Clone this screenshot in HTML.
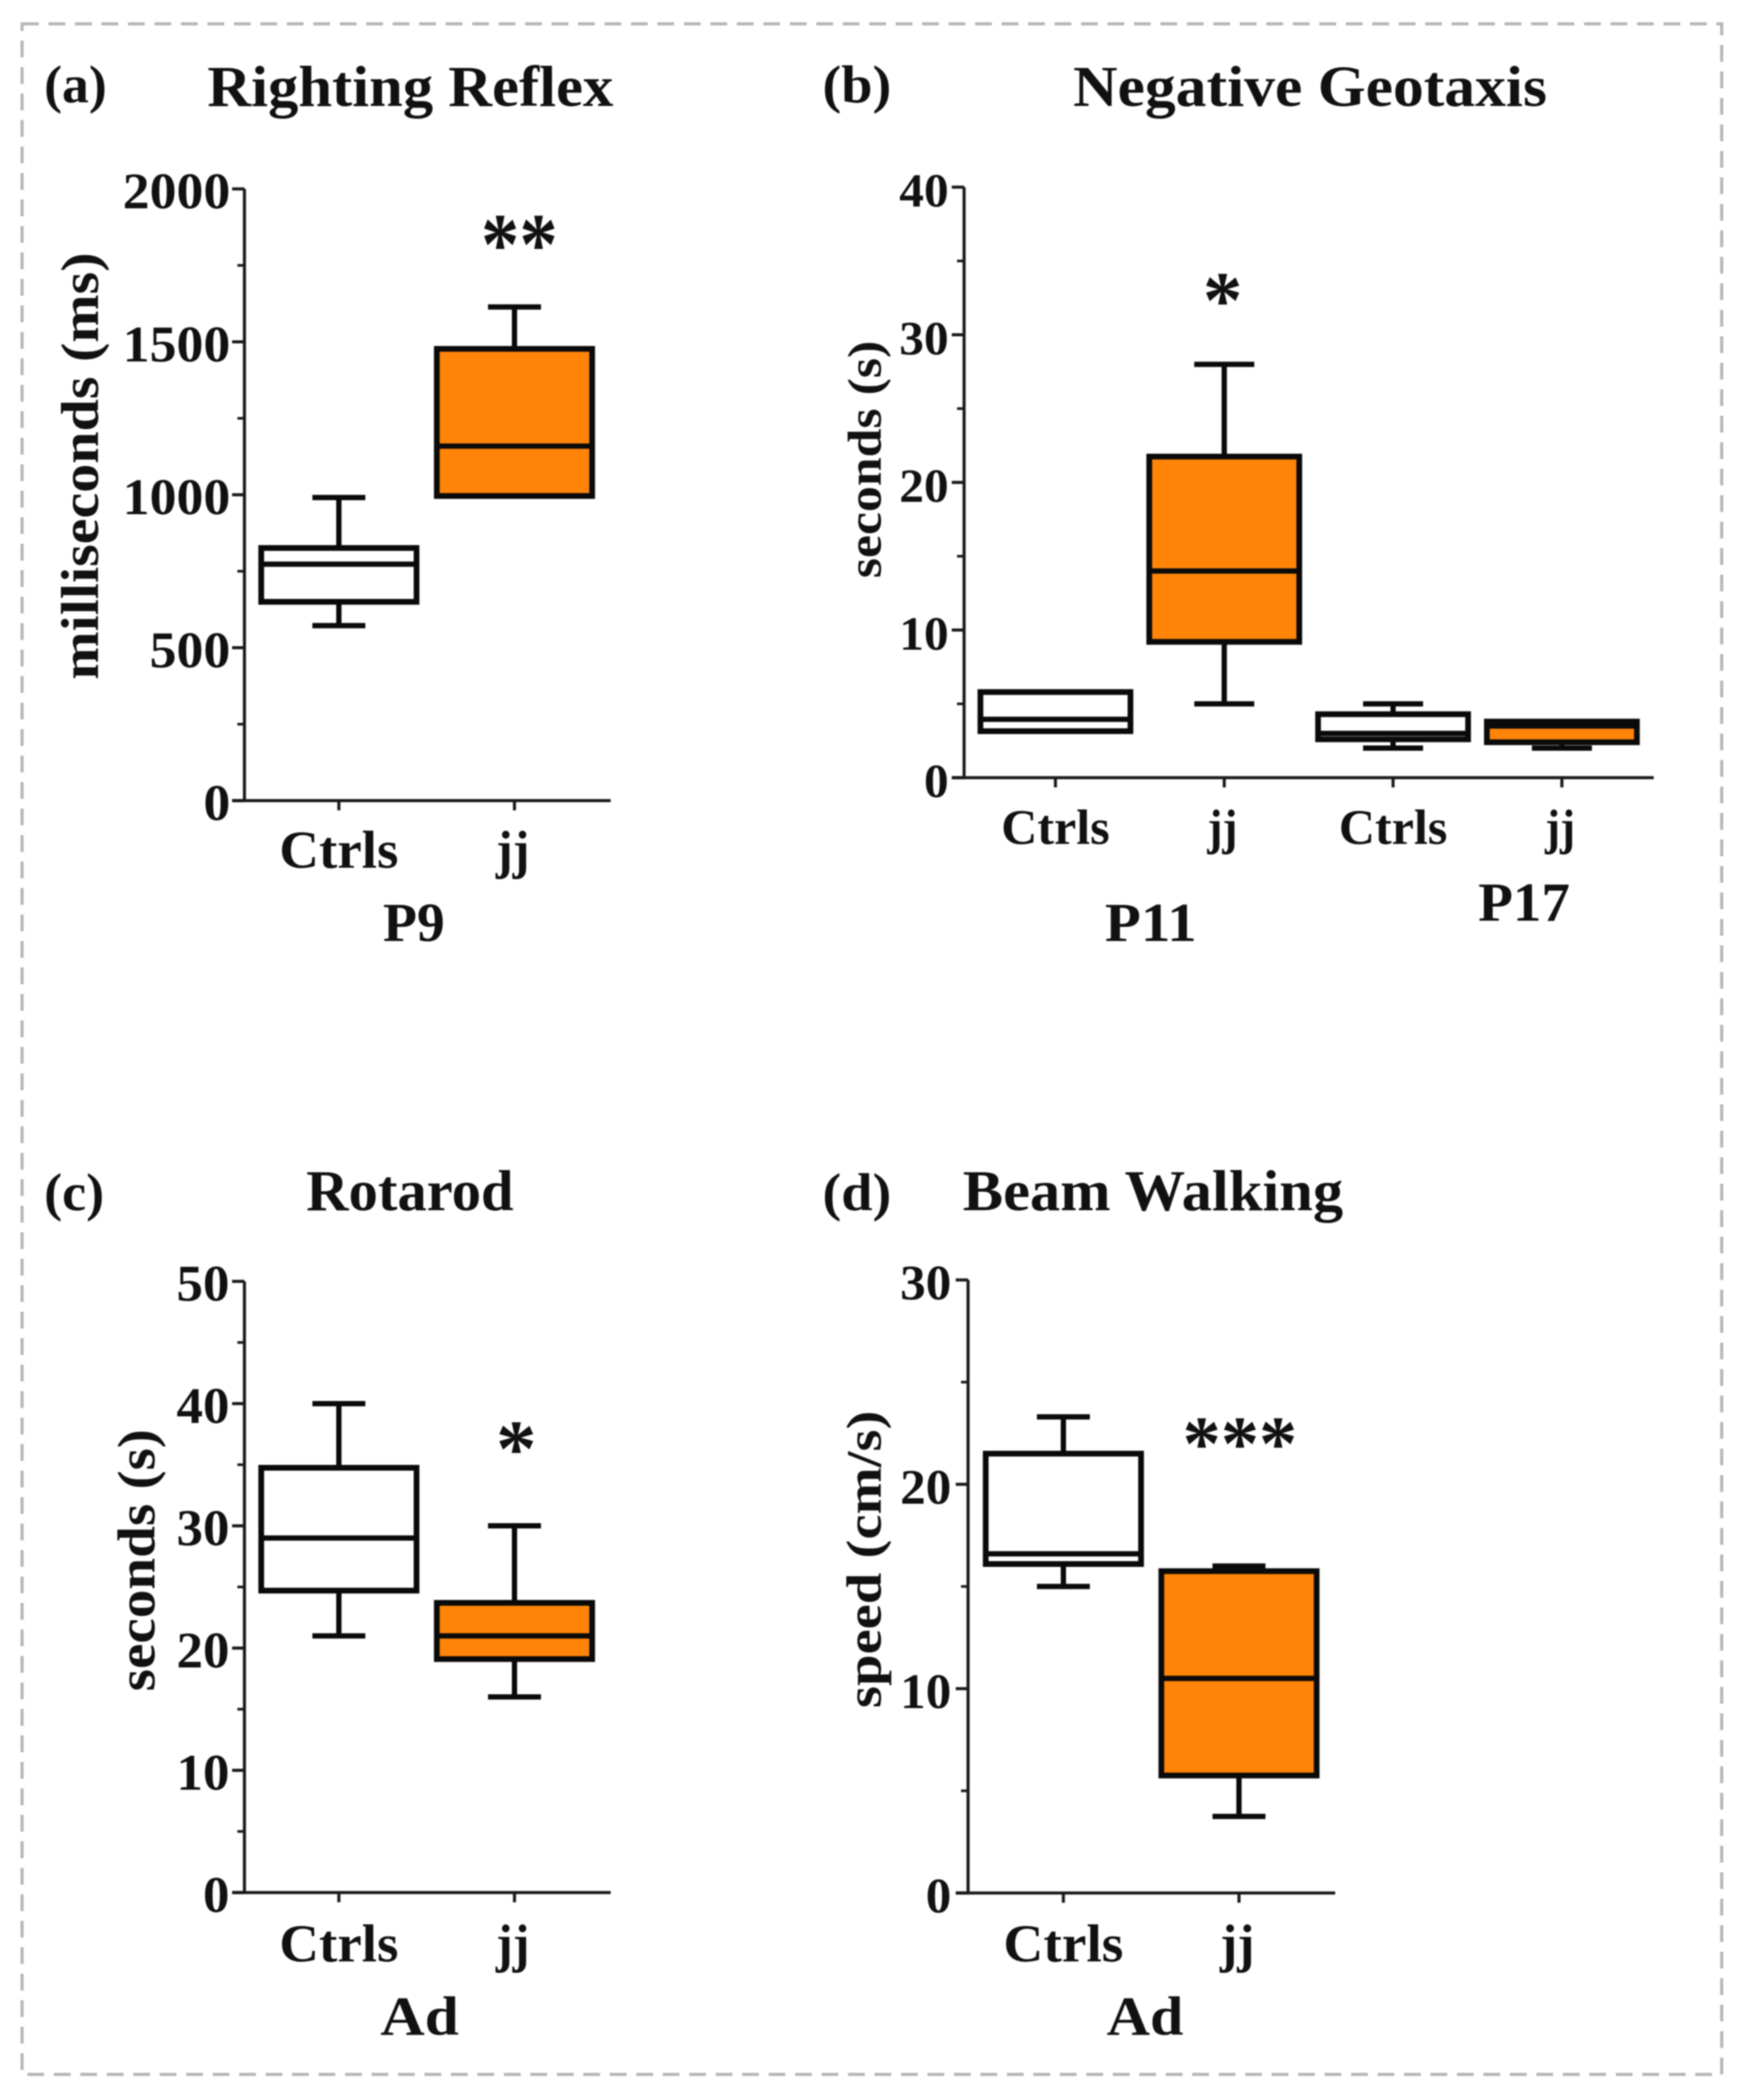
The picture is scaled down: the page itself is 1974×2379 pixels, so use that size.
<!DOCTYPE html>
<html lang="en">
<head>
<meta charset="utf-8">
<title>Behavioural tests box plots</title>
<style>
html,body{margin:0;padding:0;background:#fff;}
svg{display:block;filter:blur(0.9px);}
text{font-family:"Liberation Serif",serif;font-weight:700;fill:#111;}
</style>
</head>
<body>
<svg id="figure" xmlns="http://www.w3.org/2000/svg" width="1974" height="2379" viewBox="0 0 1974 2379">
  <rect x="0" y="0" width="1974" height="2379" fill="#fff"/>
  <rect x="25" y="27" width="1926" height="2323" fill="none" stroke="#b5b5b5" stroke-width="3.5" stroke-dasharray="19 11"/>

  <text x="50" y="116" font-size="60" textLength="71" lengthAdjust="spacingAndGlyphs">(a)</text>
  <text x="235" y="120" font-size="66" textLength="460" lengthAdjust="spacingAndGlyphs">Righting Reflex</text>
  <text transform="translate(111,770) rotate(-90)" font-size="60" textLength="484" lengthAdjust="spacingAndGlyphs">milliseconds (ms)</text>
  <text x="434" y="1066" font-size="62" textLength="70" lengthAdjust="spacingAndGlyphs">P9</text>
  <text x="545" y="310" font-size="100" textLength="87" lengthAdjust="spacingAndGlyphs">**</text>
  <g id="panel-a"></g>

  <text x="932" y="116" font-size="60" textLength="78" lengthAdjust="spacingAndGlyphs">(b)</text>
  <text x="1216" y="120" font-size="66" textLength="537" lengthAdjust="spacingAndGlyphs">Negative Geotaxis</text>
  <text transform="translate(998,655) rotate(-90)" font-size="54" textLength="269" lengthAdjust="spacingAndGlyphs">seconds (s)</text>
  <text x="1252" y="1066" font-size="62" textLength="104" lengthAdjust="spacingAndGlyphs">P11</text>
  <text x="1675" y="1043" font-size="62" textLength="104" lengthAdjust="spacingAndGlyphs">P17</text>
  <text x="1363" y="371" font-size="92" textLength="45" lengthAdjust="spacingAndGlyphs">*</text>
  <g id="panel-b"></g>

  <text x="50" y="1371" font-size="60" textLength="68" lengthAdjust="spacingAndGlyphs">(c)</text>
  <text x="347" y="1371" font-size="66" textLength="235" lengthAdjust="spacingAndGlyphs">Rotarod</text>
  <text transform="translate(175,1916) rotate(-90)" font-size="60" textLength="297" lengthAdjust="spacingAndGlyphs">seconds (s)</text>
  <text x="431" y="2305" font-size="62" textLength="89" lengthAdjust="spacingAndGlyphs">Ad</text>
  <text x="562" y="1672" font-size="92" textLength="46" lengthAdjust="spacingAndGlyphs">*</text>
  <g id="panel-c"></g>

  <text x="932" y="1371" font-size="60" textLength="78" lengthAdjust="spacingAndGlyphs">(d)</text>
  <text x="1091" y="1371" font-size="66" textLength="431" lengthAdjust="spacingAndGlyphs">Beam Walking</text>
  <text transform="translate(998,1935) rotate(-90)" font-size="56" textLength="337" lengthAdjust="spacingAndGlyphs">speed (cm/s)</text>
  <text x="1254" y="2305" font-size="62" textLength="87" lengthAdjust="spacingAndGlyphs">Ad</text>
  <text x="1340" y="1665" font-size="88" textLength="130" lengthAdjust="spacingAndGlyphs">***</text>
  <g id="panel-d"></g>
</svg>

<script>
// Panel (a) Righting Reflex
const aCategories = ['Ctrls', 'jj'];
const aTicks = [0, 500, 1000, 1500, 2000];
const aWhiskerHigh = [991, 1614];
const aBoxTop = [826, 1477];
const aMedian = [773, 1159];
const aBoxBottom = [650, 996];
const aWhiskerLow = [572, 996];

// Panel (b) Negative Geotaxis
const bCategories = ['Ctrls', 'jj', 'Ctrls', 'jj'];
const bTicks = [0, 10, 20, 30, 40];
const bWhiskerHigh = [5.8, 28, 5, 3.8];
const bBoxTop = [5.8, 21.75, 4.3, 3.8];
const bMedian = [3.95, 14, 3, 3.5];
const bBoxBottom = [3.15, 9.2, 2.6, 2.4];
const bWhiskerLow = [3.15, 5, 2, 2];

// Panel (c) Rotarod
const cCategories = ['Ctrls', 'jj'];
const cTicks = [0, 10, 20, 30, 40, 50];
const cWhiskerHigh = [40, 30];
const cBoxTop = [34.75, 23.7];
const cMedian = [29, 21];
const cBoxBottom = [24.7, 19.1];
const cWhiskerLow = [21, 16];

// Panel (d) Beam Walking
const dCategories = ['Ctrls', 'jj'];
const dTicks = [0, 10, 20, 30];
const dWhiskerHigh = [23.3, 16];
const dBoxTop = [21.5, 15.75];
const dMedian = [16.6, 10.5];
const dBoxBottom = [16.1, 5.75];
const dWhiskerLow = [15, 3.75];

const SVG_NS = 'http://www.w3.org/2000/svg';
const INK = '#0a0a0a';
const ORANGE = '#ff8408';

function make(parent, tag, attrs) {
  const el = document.createElementNS(SVG_NS, tag);
  for (const k in attrs) el.setAttribute(k, attrs[k]);
  parent.appendChild(el);
  return el;
}

function drawPanel(id, layout, categories, ticks, hi, top, med, bot, lo) {
  const root = document.getElementById(id);
  const maxV = ticks[ticks.length - 1];
  const yScale = v => layout.y0 - (v / maxV) * (layout.y0 - layout.yTop);
  const xScale = i => layout.x0 + layout.firstOffset + i * layout.step;

  // axes
  const yAxis = make(root, 'line', {x1: layout.x0, x2: layout.x0, y1: layout.yTop, y2: layout.y0, stroke: '#1a1a1a', 'stroke-width': 3.5});
  
  
  const xAxis = make(root, 'line', {x1: layout.x0 - 14, x2: layout.xEnd, y1: layout.y0, y2: layout.y0, stroke: '#1a1a1a', 'stroke-width': 3.5});
  
  

  // y ticks + minor ticks + labels
  ticks.forEach((t, i) => {
    const y = yScale(t);
    const tick = make(root, 'line', {x1: layout.x0 - 14, x2: layout.x0, y1: y, y2: y, stroke: '#1a1a1a', 'stroke-width': 3.5});
    
    
    const s = String(t);
    const label = make(root, 'text', {
      x: layout.labelRight - s.length * layout.digitW, y: y + layout.labelDy,
      'font-size': layout.tickFont, textLength: s.length * layout.digitW, lengthAdjust: 'spacingAndGlyphs'
    });
    label.textContent = s;
    
    
    if (i < ticks.length - 1) {
      const my = yScale((t + ticks[i + 1]) / 2);
      const minor = make(root, 'line', {x1: layout.x0 - 8, x2: layout.x0, y1: my, y2: my, stroke: '#1a1a1a', 'stroke-width': 3});
      
      
    }
  });

  // categories
  categories.forEach((cat, i) => {
    const cx = xScale(i);
    const tick = make(root, 'line', {x1: cx, x2: cx, y1: layout.y0, y2: layout.y0 + 11, stroke: '#1a1a1a', 'stroke-width': 3.5});
    
    

    const isCtrl = cat === 'Ctrls';
    const w = isCtrl ? layout.ctrlW : layout.jjW;
    const label = make(root, 'text', {
      x: cx - w / 2 + (isCtrl ? 0 : -2), y: layout.catY,
      'font-size': layout.catFont, textLength: w, lengthAdjust: 'spacingAndGlyphs'
    });
    label.textContent = cat;
    
    

    const fill = isCtrl ? '#fff' : ORANGE;
    const whisker = make(root, 'line', {x1: cx, x2: cx, y1: yScale(hi[i]), y2: yScale(lo[i]), stroke: INK, 'stroke-width': 6});
    
    
    const capHi = make(root, 'line', {x1: cx - layout.capHalf, x2: cx + layout.capHalf, y1: yScale(hi[i]), y2: yScale(hi[i]), stroke: INK, 'stroke-width': 6});
    
    
    const capLo = make(root, 'line', {x1: cx - layout.capHalf, x2: cx + layout.capHalf, y1: yScale(lo[i]), y2: yScale(lo[i]), stroke: INK, 'stroke-width': 6});
    
    
    const box = make(root, 'rect', {
      x: cx - layout.boxHalf, width: layout.boxHalf * 2,
      y: yScale(top[i]), height: yScale(bot[i]) - yScale(top[i]),
      fill: fill, stroke: INK, 'stroke-width': 6.5
    });
    
    
    const median = make(root, 'line', {x1: cx - layout.boxHalf, x2: cx + layout.boxHalf, y1: yScale(med[i]), y2: yScale(med[i]), stroke: INK, 'stroke-width': 6});
    
    
  });
}

drawPanel('panel-a',
  {x0: 277, xEnd: 692, yTop: 214, y0: 907, firstOffset: 107, step: 199, boxHalf: 88, capHalf: 30,
   labelRight: 261, digitW: 30.5, tickFont: 58, labelDy: 22, catY: 983, catFont: 60, ctrlW: 135, jjW: 38},
  aCategories, aTicks, aWhiskerHigh, aBoxTop, aMedian, aBoxBottom, aWhiskerLow);

drawPanel('panel-b',
  {x0: 1092.5, xEnd: 1874, yTop: 212, y0: 881, firstOffset: 103.5, step: 191.3, boxHalf: 85, capHalf: 34,
   labelRight: 1075, digitW: 28, tickFont: 54, labelDy: 22, catY: 956, catFont: 56, ctrlW: 123, jjW: 34},
  bCategories, bTicks, bWhiskerHigh, bBoxTop, bMedian, bBoxBottom, bWhiskerLow);

drawPanel('panel-c',
  {x0: 277, xEnd: 692, yTop: 1451.6, y0: 2144, firstOffset: 107, step: 199, boxHalf: 88, capHalf: 30,
   labelRight: 260, digitW: 30, tickFont: 58, labelDy: 22, catY: 2222, catFont: 60, ctrlW: 135, jjW: 38},
  cCategories, cTicks, cWhiskerHigh, cBoxTop, cMedian, cBoxBottom, cWhiskerLow);

drawPanel('panel-d',
  {x0: 1097, xEnd: 1513, yTop: 1450, y0: 2144.5, firstOffset: 108, step: 199, boxHalf: 88, capHalf: 30,
   labelRight: 1078, digitW: 29, tickFont: 56, labelDy: 22, catY: 2222, catFont: 60, ctrlW: 136, jjW: 39},
  dCategories, dTicks, dWhiskerHigh, dBoxTop, dMedian, dBoxBottom, dWhiskerLow);
</script>
</body>
</html>
